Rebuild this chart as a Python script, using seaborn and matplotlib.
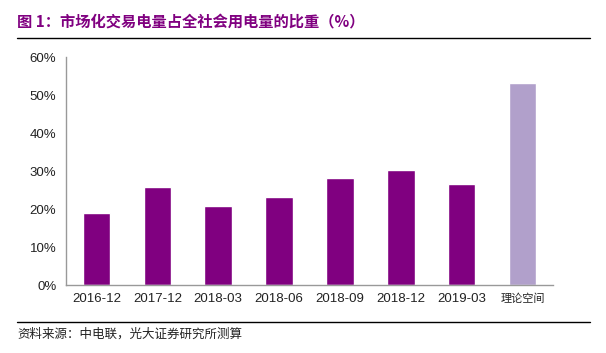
import matplotlib
matplotlib.use('Agg')
import matplotlib.pyplot as plt
import seaborn as sns
import pandas as pd

periods = ['2016-12', '2017-12', '2018-03', '2018-06', '2018-09', '2018-12', '2019-03', '理论空间']
share = [18.9, 25.8, 20.8, 23.2, 28.2, 30.3, 26.6, 53.2]
bar_colors = ['#800080'] * 7 + ['#b1a0cb']

df = pd.DataFrame({'period': periods, 'share': share})

sns.set_style('white')
plt.rcParams['font.family'] = ['Noto Sans CJK SC', 'DejaVu Sans']

fig = plt.figure(figsize=(6.06, 3.53), dpi=100)
ax = fig.add_axes([66 / 606, 1 - 285 / 353, (553 - 66) / 606, (285 - 57) / 353])

sns.barplot(data=df, x='period', y='share', hue='period', palette=bar_colors,
            legend=False, width=0.45, saturation=1, ax=ax)

ax.set_ylim(0, 60)
ax.set_xlim(-0.5, 7.5)
ax.set_yticks(range(0, 61, 10))
ax.set_yticklabels([f'{v}%' for v in range(0, 61, 10)], fontfamily='Liberation Sans')
ax.set_xticks([i - 0.5 for i in range(9)], minor=True)
ax.set_xticks(range(8))
ax.set_xticklabels(periods, fontfamily=['Liberation Sans', 'Noto Sans CJK SC'])
ax.tick_params(axis='both', which='major', labelsize=9.5, colors='#222222')
ax.tick_params(axis='x', which='major', length=0, pad=6)
ax.tick_params(axis='x', which='minor', length=4, color='#999999', direction='out')
ax.tick_params(axis='y', length=4, color='#999999', direction='out', pad=3)
ax.get_xticklabels()[-1].set_fontsize(8)
ax.set_xlabel('')
ax.set_ylabel('')
for s in ['top', 'right']:
    ax.spines[s].set_visible(False)
for s in ['left', 'bottom']:
    ax.spines[s].set_color('#999999')
    ax.spines[s].set_linewidth(1)

fig.text(17 / 606, 1 - 22 / 353, '图 1：市场化交易电量占全社会用电量的比重（%）',
         color='#800080', fontsize=11, fontweight='bold', va='center', ha='left')
fig.add_artist(plt.Line2D([17 / 606, 590 / 606], [1 - 38 / 353, 1 - 38 / 353], color='black', lw=1))
fig.add_artist(plt.Line2D([17 / 606, 590 / 606], [1 - 322 / 353, 1 - 322 / 353], color='black', lw=1))
fig.text(17 / 606, 1 - 334 / 353, '资料来源：中电联，光大证券研究所测算',
         color='#222222', fontsize=9, va='center', ha='left')

fig.savefig('out.png', dpi=100)
